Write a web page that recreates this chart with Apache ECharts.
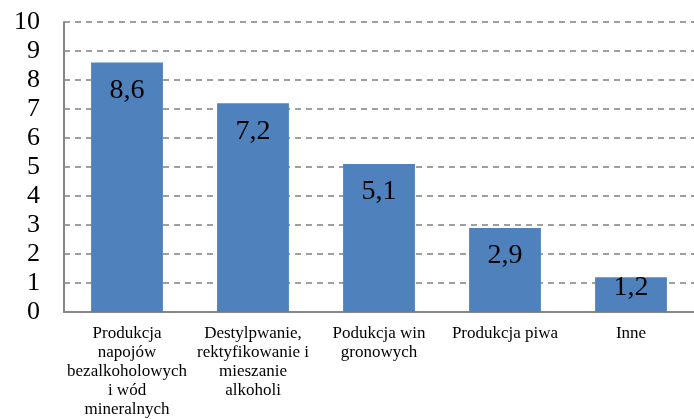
<!DOCTYPE html>
<html>
<head>
<meta charset="utf-8">
<script src="https://cdn.jsdelivr.net/npm/echarts@6/dist/echarts.min.js"></script>
<style>
  html, body { margin: 0; padding: 0; background: #fff; }
  #chart { width: 694px; height: 419px; }
</style>
</head>
<body>
<div id="chart"></div>
<script>
const categories = [
  "Produkcja\nnapojów\nbezalkoholowych\ni wód\nmineralnych",
  "Destylpwanie,\nrektyfikowanie i\nmieszanie\nalkoholi",
  "Podukcja win\ngronowych",
  "Produkcja piwa",
  "Inne",
];
const values = [8.6, 7.2, 5.1, 2.9, 1.2];
const yTicks = [0, 1, 2, 3, 4, 5, 6, 7, 8, 9, 10];

const serif = "'Liberation Serif', 'DejaVu Serif', serif";
const chart = echarts.init(document.querySelector("#chart"));
chart.setOption({
  animation: false,
  grid: { left: 64, right: -4, top: 22, bottom: 103, containLabel: false },
  xAxis: {
    type: "category",
    data: categories,
    axisLine: { lineStyle: { color: "#878787", width: 2 } },
    axisTick: { show: false },
    axisLabel: {
      interval: 0,
      margin: 12,
      color: "#000",
      fontFamily: serif,
      fontSize: 17,
      lineHeight: 19,
      align: "center",
    },
  },
  yAxis: {
    type: "value",
    min: yTicks[0],
    max: yTicks[yTicks.length - 1],
    interval: 1,
    axisLine: { show: true, lineStyle: { color: "#878787", width: 2 } },
    axisTick: { show: false },
    axisLabel: { color: "#000", fontFamily: serif, fontSize: 26, margin: 24 },
    splitLine: { lineStyle: { color: "#808080", type: [6, 5], width: 1.5 } },
  },
  series: [
    {
      type: "bar",
      // short bars: label sits at the bar top like in the source
      data: values.map((v) => (v < 2 ? { value: v, label: { distance: -4 } } : v)),
      barWidth: "57%",
      itemStyle: { color: "#4F81BD" },
      label: {
        show: true,
        position: "insideTop",
        distance: 14,
        color: "#000",
        fontFamily: serif,
        fontSize: 28,
        formatter: (p) => String(p.value).replace(".", ","),
      },
    },
  ],
});
</script>
</body>
</html>
